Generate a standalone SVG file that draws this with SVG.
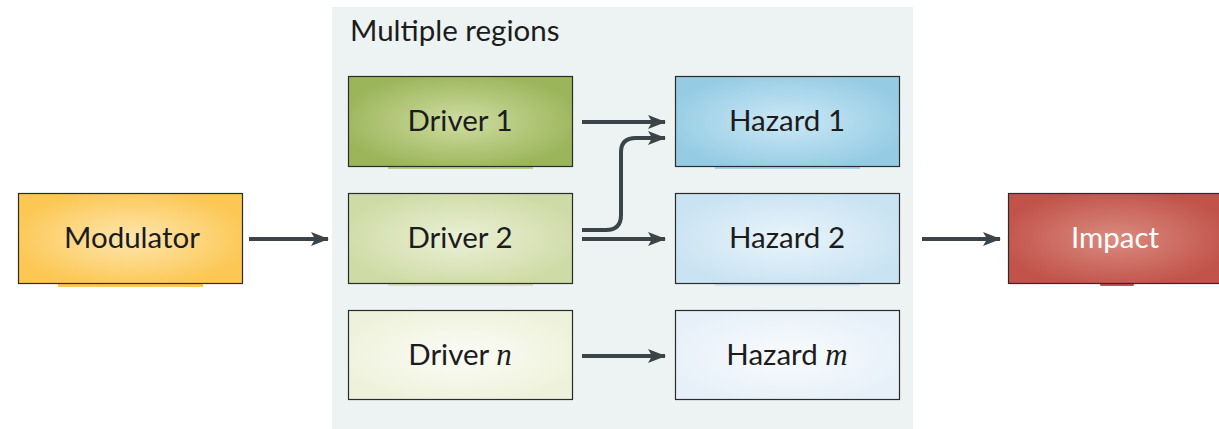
<svg xmlns="http://www.w3.org/2000/svg" width="1219" height="429" viewBox="0 0 1219 429">
<defs>
<style>
.box{stroke:#2b2b2b;stroke-width:1.2}
.lbl{font-family:Lato,"Open Sans","Liberation Sans",sans-serif;font-size:29.5px;fill:#1c1c1c;text-anchor:middle}
.it{font-family:"Liberation Serif",serif;font-style:italic;font-size:31px}
.con{fill:none;stroke:#3b4549;stroke-width:4;marker-end:url(#ah)}
</style>
<marker id="ah" markerWidth="20" markerHeight="14" refX="17" refY="7" orient="auto" markerUnits="userSpaceOnUse">
<path d="M0,0 L18,7 L0,14 L4,7 Z" fill="#3b4549"/>
</marker>
<radialGradient id="gMod" cx="0.5" cy="0.5" r="0.55"><stop offset="0" stop-color="#fde6b0"/><stop offset="1" stop-color="#fcc752"/></radialGradient>
<radialGradient id="gD1" cx="0.5" cy="0.5" r="0.55"><stop offset="0" stop-color="#cfdda2"/><stop offset="1" stop-color="#9bb55a"/></radialGradient>
<radialGradient id="gD2" cx="0.5" cy="0.5" r="0.55"><stop offset="0" stop-color="#eaf0d6"/><stop offset="1" stop-color="#cfdba6"/></radialGradient>
<radialGradient id="gDn" cx="0.5" cy="0.5" r="0.55"><stop offset="0" stop-color="#fbfcf6"/><stop offset="1" stop-color="#eef2dc"/></radialGradient>
<radialGradient id="gH1" cx="0.5" cy="0.5" r="0.55"><stop offset="0" stop-color="#cce8f5"/><stop offset="1" stop-color="#95cce4"/></radialGradient>
<radialGradient id="gH2" cx="0.5" cy="0.5" r="0.55"><stop offset="0" stop-color="#e9f4fa"/><stop offset="1" stop-color="#c9e3f2"/></radialGradient>
<radialGradient id="gHm" cx="0.5" cy="0.5" r="0.55"><stop offset="0" stop-color="#f8fbfd"/><stop offset="1" stop-color="#e7f0f9"/></radialGradient>
<radialGradient id="gImp" cx="0.5" cy="0.5" r="0.55"><stop offset="0" stop-color="#da8b80"/><stop offset="1" stop-color="#c1534a"/></radialGradient>
</defs>
<rect width="1219" height="429" fill="#ffffff"/>
<g id="region">
<rect x="332" y="7" width="581" height="422" fill="#edf2f2"/>
<text x="350" y="41" font-family="Lato,'Open Sans','Liberation Sans',sans-serif" font-size="29.5" fill="#1c1c1c">Multiple regions</text>
</g>
<g id="modulator">
<rect x="58" y="283" width="145" height="4" fill="#fcc752"/>
<rect class="box" x="18.5" y="193.5" width="224" height="90" fill="url(#gMod)"/>
<text class="lbl" x="132" y="248">Modulator</text>
</g>
<g id="driver1">
<rect x="388" y="166" width="145" height="3" fill="#b9cf85"/>
<rect class="box" x="348.5" y="76.5" width="224" height="90" fill="url(#gD1)"/>
<text class="lbl" x="460" y="131">Driver 1</text>
</g>
<g id="driver2">
<rect x="388" y="283" width="145" height="3" fill="#d8e3b8"/>
<rect class="box" x="348.5" y="193.5" width="224" height="90" fill="url(#gD2)"/>
<text class="lbl" x="460" y="248">Driver 2</text>
</g>
<g id="drivern">
<rect class="box" x="348.5" y="310.5" width="224" height="89" fill="url(#gDn)"/>
<text class="lbl" x="460" y="365">Driver <tspan class="it">n</tspan></text>
</g>
<g id="hazard1">
<rect x="715" y="166" width="145" height="3" fill="#a6d4ea"/>
<rect class="box" x="675.5" y="76.5" width="224" height="90" fill="url(#gH1)"/>
<text class="lbl" x="787" y="131">Hazard 1</text>
</g>
<g id="hazard2">
<rect x="715" y="283" width="145" height="3" fill="#cfe6f4"/>
<rect class="box" x="675.5" y="193.5" width="224" height="90" fill="url(#gH2)"/>
<text class="lbl" x="787" y="248">Hazard 2</text>
</g>
<g id="hazardm">
<rect class="box" x="675.5" y="310.5" width="224" height="89" fill="url(#gHm)"/>
<text class="lbl" x="787" y="365">Hazard <tspan class="it">m</tspan></text>
</g>
<g id="impact">
<rect x="1100" y="283" width="34" height="3" rx="1.5" fill="#c1534a"/>
<rect class="box" x="1008.5" y="193.5" width="214" height="90" fill="url(#gImp)"/>
<text class="lbl" x="1115" y="248" style="fill:#ffffff">Impact</text>
</g>
<g id="connectors">
<path class="con" d="M249,239 H328"/>
<path class="con" d="M582,122 H665"/>
<path class="con" d="M582,239 H665"/>
<path class="con" d="M582,230 H606 Q621,230 621,215 V152 Q621,138 636,138 H665"/>
<path class="con" d="M582,356 H665"/>
<path class="con" d="M922,239 H1000"/>
</g>
</svg>
